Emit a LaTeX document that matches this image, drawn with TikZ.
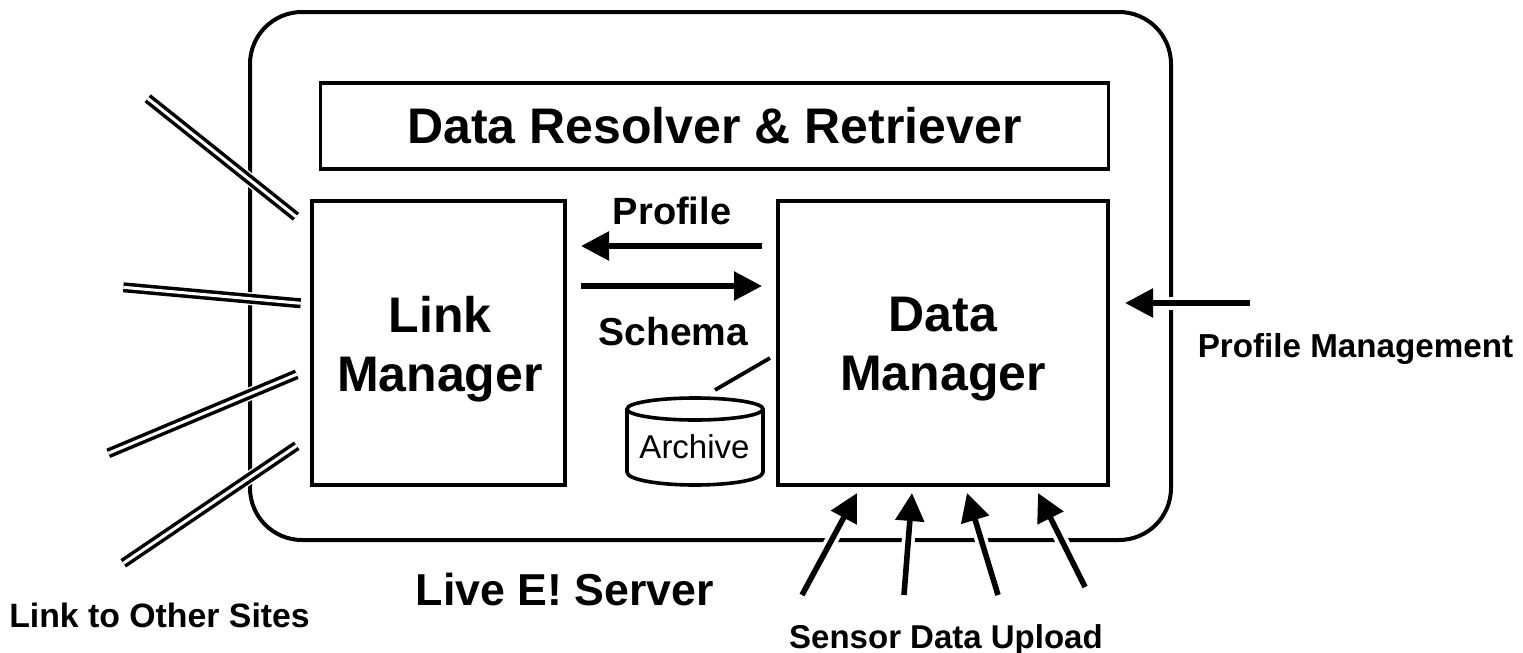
\documentclass[tikz,border=0pt]{standalone}
\usepackage{fontspec}
\setmainfont{Liberation Sans}
\usetikzlibrary{arrows.meta}
\tikzset{
  box/.style={draw=black,line width=3.8pt,inner sep=0pt,align=center},
  link/.style={line width=3.5pt,double=white,double distance=3pt,preaction={draw=white,line width=13pt,double=none}},
  arr/.style={line width=5.6pt,-{Triangle[length=28pt,width=28pt]}},
  halo/.style={preaction={draw=white,line width=13pt,-}},
  label/.style={inner sep=0pt,anchor=center}
}
\begin{document}
\begin{tikzpicture}[x=1pt,y=-1pt]
\useasboundingbox (0,0) rectangle (1523,653);
\fill[white] (0,0) rectangle (1523,653);
\draw[line width=4pt,rounded corners=52pt] (250,12) rectangle (1171,540);
\node[box,minimum width=788pt,minimum height=86pt,font=\fontsize{50}{56}\selectfont\bfseries] (res) at (714.5,126) {Data Resolver \& Retriever};
\draw[box] (312,201) rectangle (565,485);
\draw[box] (778,201) rectangle (1108,485);
\node[label,align=center,font=\fontsize{50}{59}\selectfont\bfseries] (lm) at (440,349) {Link\\Manager};
\node[label,align=center,font=\fontsize{50}{59}\selectfont\bfseries] (dm) at (943,349) {Data\\Manager};
% archive
\draw[line width=3.6pt,fill=white] (627,410) -- (627,472) .. controls (627,480) and (660,485) .. (695,485) .. controls (730,485) and (763,480) .. (763,472) -- (763,410);
\draw[line width=3.6pt,fill=white] (695,409) ellipse [x radius=68pt,y radius=11pt];
\node[inner sep=0pt,font=\fontsize{33}{38}\selectfont] (arc) at (694.5,447) {Archive};
\coordinate (a1) at (770,358);\coordinate (a2) at (715,390);
\draw[line width=3.8pt] (a1) -- (a2);
% links
\foreach \n/\xa/\ya/\xb/\yb in {1/147.7/98.3/296/216.7,2/123.3/287.3/300.7/303.3,3/108.3/453.3/296.7/374.3,4/123.3/563.3/296.7/445.7}{
  \coordinate (ls\n) at (\xa,\ya);\coordinate (le\n) at (\xb,\yb);
  \draw[link] (ls\n) -- (le\n);
}
% arrows
\coordinate (p1) at (762,246);\coordinate (p2) at (581,246);
\coordinate (s1) at (581,286);\coordinate (s2) at (762,286);
\draw[arr] (p1) -- (p2);
\draw[arr] (s1) -- (s2);
\foreach \n/\xa/\ya/\xb/\yb in {1/802/595/857/493,2/904/595/912/493,3/998/595/967/493,4/1085/587/1038/493}{
  \coordinate (us\n) at (\xa,\ya);\coordinate (ue\n) at (\xb,\yb);
  \draw[arr,halo] (us\n) -- (ue\n);
}
\coordinate (m1) at (1250,303);\coordinate (m2) at (1125,303);
\draw[arr,halo] (m1) -- (m2);
\node[label,font=\fontsize{38}{42}\selectfont\bfseries] (tp) at (672,211) {Profile};
\node[label,font=\fontsize{39}{44}\selectfont\bfseries] (ts) at (673.5,332) {Schema};
\node[label,font=\fontsize{33.2}{38}\selectfont\bfseries] (tm) at (1355.5,349) {Profile Management};
\node[label,font=\fontsize{33.8}{38}\selectfont\bfseries] (tl) at (159.5,615) {Link to Other Sites};
\node[label,font=\fontsize{44.7}{50}\selectfont\bfseries] (tv) at (565,590) {Live E! Server};
\node[label,font=\fontsize{33}{38}\selectfont\bfseries] (tu) at (946,640) {Sensor Data Upload};
\end{tikzpicture}
\end{document}
